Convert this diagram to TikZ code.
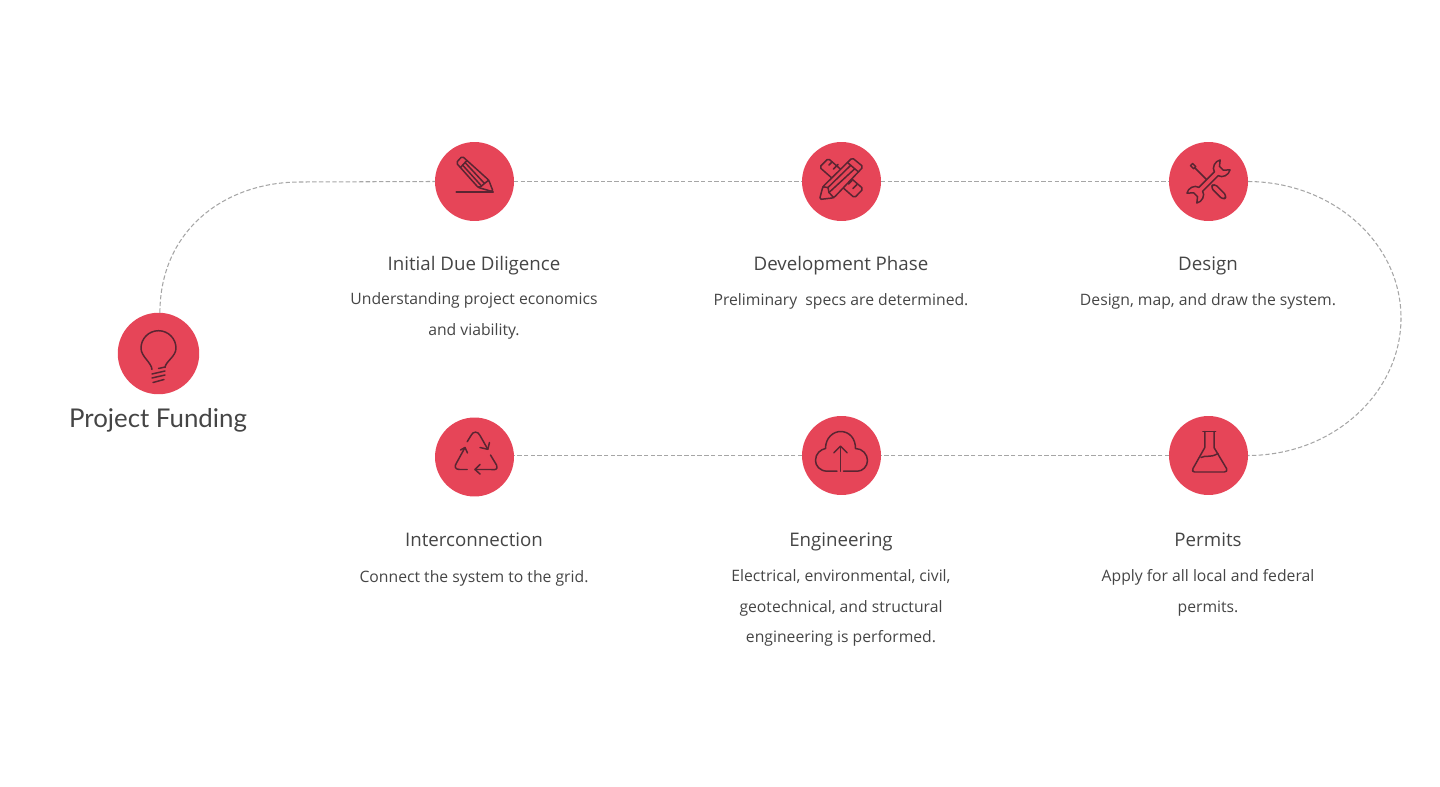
\documentclass[tikz,border=0pt]{standalone}
\usepackage{fontspec}
\setmainfont{Open Sans}
\newfontfamily\titlefont{Lato}
\definecolor{stepred}{HTML}{E64558}
\definecolor{iconline}{HTML}{5A2532}
\definecolor{dashgray}{HTML}{A6A6A6}
\definecolor{textgray}{HTML}{454545}
\begin{document}
\begin{tikzpicture}[
        x=0.02cm, y=-0.02cm,
        stepcircle/.style={circle, fill=stepred, inner sep=0pt, outer sep=0pt, minimum size=1.58cm},
        bigcircle/.style={circle, fill=stepred, inner sep=0pt, outer sep=0pt, minimum size=1.63cm},
        heading/.style={text=textgray, font=\fontsize{10.65}{12}\selectfont, inner sep=0pt},
        desc/.style={text=textgray, font=\fontsize{8.95}{17.3}\selectfont, align=center, inner sep=0pt},
        link/.style={draw=dashgray, line width=0.6pt, dash pattern=on 2.5pt off 1.3pt},
        icon/.style={color=iconline, line width=0.85pt, line join=round, line cap=round}
    ]

    \useasboundingbox (0,0) rectangle (1440,787);

    % Project funding
    \node[bigcircle] (fund) at (158.5,353.5) {};
    \node[text=textgray, font=\titlefont\fontsize{14.7}{18}\selectfont, inner sep=0pt] (fundtitle) at (158,420) {Project Funding};

    % Top row
    \node[stepcircle] (due) at (474.5,181.5) {};
    \node[stepcircle] (dev) at (841.5,181.5) {};
    \node[stepcircle] (design) at (1208.5,181.5) {};

    % Bottom row
    \node[stepcircle] (inter) at (474.5,457) {};
    \node[stepcircle] (eng) at (841.5,455.5) {};
    \node[stepcircle] (permits) at (1208.5,455.5) {};

    % Headings
    \node[heading] (duetitle) at (474,265.5) {Initial Due Diligence};
    \node[heading] (devtitle) at (841,265.5) {Development Phase};
    \node[heading] (designtitle) at (1208,265.5) {Design};
    \node[heading] (intertitle) at (474,540) {Interconnection};
    \node[heading] (engtitle) at (841,542) {Engineering};
    \node[heading] (permitstitle) at (1208,540) {Permits};

    % Descriptions
    \node[desc] (duetext) at (474,316) {Understanding project economics\\and viability.};
    \node[desc] (devtext) at (841,301.5) {Preliminary\ \ specs are determined.};
    \node[desc] (designtext) at (1208,301.5) {Design, map, and draw the system.};
    \node[desc] (intertext) at (474,578) {Connect the system to the grid.};
    \node[desc] (engtext) at (841,608) {Electrical, environmental, civil,\\geotechnical, and structural\\engineering is performed.};
    \node[desc] (permitstext) at (1208,593) {Apply for all local and federal\\permits.};

    % Dashed path
    \draw[link] (fund.88) .. controls (160,230) and (225,182) .. (300,182) -- (due.west);
    \draw[link] (due.east) -- (dev.west);
    \draw[link] (dev.east) -- (design.west);
    \draw[link] (design.east) .. controls (1333,182) and (1401,243) .. (1401,318) .. controls (1401,393) and (1333,455.5) .. (permits.east);
    \draw[link] (permits.west) -- (eng.east);
    \draw[link] (eng.west) -- (eng.west -| inter.east);

    % Bulb
    \begin{scope}[icon, shift={(fund.center)}]
        \draw (-6.5,16) .. controls (-7,9) and (-17.5,3) .. (-17.5,-5.3) .. controls (-17.5,-15) and (-9.7,-22.8) .. (0,-22.8) .. controls (9.7,-22.8) and (17.5,-15) .. (17.5,-5.3) .. controls (17.5,3) and (7,8) .. (6.5,14);
        \draw (0,15) -- (6.5,13.5);
        \draw (-6.5,20.5) -- (6.5,17.5);
        \draw (-6.5,24.5) -- (6.5,21.5);
        \draw (-5.5,29) -- (5.5,26);
    \end{scope}

    % Pencil on a line
    \begin{scope}[icon, shift={(due.center)}]
        \draw (-18.3,10.3) -- (18.7,10.3);
        \draw[rounded corners=1pt] (-12.3,-25.3) -- (-18.3,-18.7) -- (3.7,6) -- (18.7,10.3) -- (14.3,-1.3) -- cycle;
        \draw (-7.8,-20.8) -- (-14,-14);
        \draw (-12,-16.5) -- (7,4.5);
        \draw (-9.5,-19) -- (10,2);
        \draw (3.7,6) -- (6.5,5) -- (10.5,1.5) -- (14.3,-1.3);
    \end{scope}

    % Ruler and pencil
    \begin{scope}[icon, shift={(dev.center)}]
        \draw[rounded corners=1pt] (-13.3,-23) -- (-22,-14.3) -- (13,16.3) -- (21.7,7.3) -- cycle;
        \draw (-12.5,-16.5) -- (-9.5,-19.5);
        \draw (-8,-12.5) -- (-3.5,-17);
        \draw (7,2.5) -- (10.5,-1);
        \draw (11.5,7) -- (15.5,3);
        \draw[fill=stepred, rounded corners=1pt] (10.7,-23.7) -- (21.7,-14.7) -- (-7.7,16.3) -- (-22,18) -- (-18.7,5.3) -- cycle;
        \draw (6,-19) -- (17,-9.5);
        \draw (-18.7,5.3) -- (-13.5,6) -- (-12.5,11) -- (-7.7,16.3);
        \draw (-13.5,6) -- (9,-16);
        \draw (-12.5,11) -- (13,-12.5);
    \end{scope}

    % Wrench and screwdriver
    \begin{scope}[icon, shift={(design.center)}, rotate=45]
        \draw (-1.5,-24) rectangle (1.5,-19.5);
        \draw (0,-19.5) -- (0,3);
        \draw[rounded corners=2pt] (-2.7,5.5) rectangle (2.7,23.5);
        \draw[fill=stepred] (-11,-2.7) -- (11,-2.7) .. controls (12,-7.5) and (19,-10) .. (23.5,-7) -- (18.5,-3) -- (18.5,2.5) -- (23.5,7) .. controls (19,10) and (12,7.5) .. (11,2.7) -- (-11,2.7) .. controls (-12,7.5) and (-19,10) .. (-23.5,7) -- (-18.5,3) -- (-18.5,-2.5) -- (-23.5,-7) .. controls (-19,-10) and (-12,-7.5) .. (-11,-2.7) -- cycle;
    \end{scope}

    % Recycling arrows
    \begin{scope}[icon, shift={(inter.center)}]
        \draw (-7.3,-15.3) -- (-3.5,-21.5) .. controls (-1.5,-26) and (3.5,-26) .. (5.5,-21.5) -- (13.3,-7.7);
        \draw (5.5,-9.5) -- (13.3,-7.7) -- (15,-14.5);
        \draw (16,-2) -- (22,8) .. controls (24,13) and (20,13) .. (17,12.5) -- (0.5,12.5);
        \draw (5.5,7.5) -- (0.5,12.5) -- (5.5,17);
        \draw (-7.3,12.5) -- (-15,12.5) .. controls (-20,12.5) and (-20,9) .. (-18,6) -- (-9.5,-9.5);
        \draw (-14,-7) -- (-9.5,-9.5) -- (-7,-4);
    \end{scope}

    % Cloud with arrow
    \begin{scope}[icon, shift={(eng.center)}]
        \draw (-4.5,15.7) -- (-14,15.7) .. controls (-22,15.7) and (-26,10) .. (-26,5) .. controls (-26,-2) and (-21,-6) .. (-16,-7) .. controls (-16,-18) and (-8,-24) .. (-1,-24) .. controls (8,-24) and (14,-17) .. (14,-7) .. controls (21,-7) and (26,-1) .. (26,5) .. controls (26,11) and (21,15.7) .. (16,15.7) -- (2,15.7);
        \draw (-1,15.7) -- (-1,-9);
        \draw (-7.7,-2.7) -- (-1,-9.3) -- (5.7,-2.7);
    \end{scope}

    % Flask
    \begin{scope}[icon, shift={(permits.center)}]
        \draw[line width=1.1pt] (-5.5,-24) -- (7,-24);
        \draw (-3.7,-24) -- (-3.7,-8) -- (-15.5,13) .. controls (-16.5,15) and (-16,16.5) .. (-14,16.5) -- (16,16.5) .. controls (18,16.5) and (19,15) .. (18,13) -- (5.5,-8) -- (5.5,-24);
        \draw (-7.5,2) .. controls (-2,-1) and (1,3) .. (9.5,-2);
    \end{scope}

\end{tikzpicture}
\end{document}
